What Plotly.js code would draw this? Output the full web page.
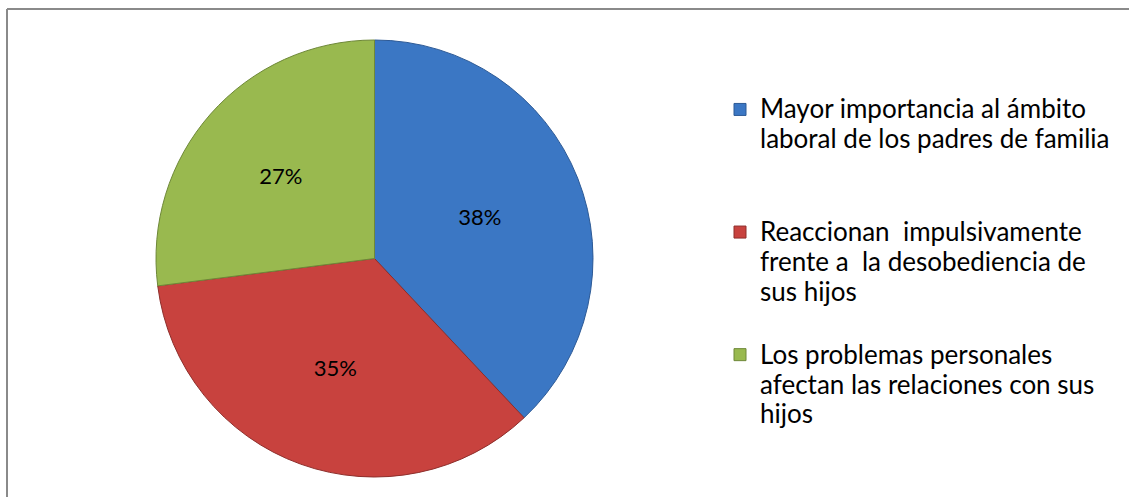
<!DOCTYPE html>
<html>
<head>
<meta charset="utf-8">
<script src="https://cdn.plot.ly/plotly-3.0.1.min.js"></script>
<style>html,body{margin:0;padding:0;background:#fff;}#chart{width:1129px;height:497px;}</style>
</head>
<body>
<div id="chart"></div>
<script>
const categories = [
  "Mayor importancia al ámbito<br>laboral de los padres de familia",
  "Reaccionan  impulsivamente<br>frente a  la desobediencia de<br>sus hijos",
  "Los problemas personales<br>afectan las relaciones con sus<br>hijos"
];
const values = [38, 35, 27];
const sliceColors = ["#3b77c4", "#c8423e", "#99b94f"];
const edgeColors = ["#2d5a96", "#8e2e2b", "#6e8838"];

const W = 1129, H = 497;
const px = x => x / W;
const py = y => 1 - y / H;

// every legend entry takes 4 line slots so the entries are evenly spaced
const legendLabels = categories.map(c => {
  const lines = c.split("<br>").map(s => '<span style="font-size:26px">' + s + '</span>');
  while (lines.length < 4) lines.push(" ");
  return lines.join("<br>");
});

const trace = {
  type: "pie",
  labels: legendLabels,
  values: values,
  sort: false,
  direction: "clockwise",
  rotation: 0,
  marker: {colors: sliceColors, line: {color: edgeColors, width: 1}},
  textinfo: "percent",
  texttemplate: "%{percent:.0%}",
  textposition: "inside",
  insidetextorientation: "horizontal",
  textfont: {family: "Lato, 'Open Sans', sans-serif", size: 22, color: "#000"},
  hoverinfo: "percent",
  domain: {x: [px(156), px(593)], y: [py(477), py(40)]}
};

const layout = {
  width: W, height: H,
  margin: {l: 0, r: 0, t: 0, b: 0},
  paper_bgcolor: "#ffffff",
  showlegend: true,
  legend: {
    x: px(720), y: py(88), xanchor: "left", yanchor: "top",
    font: {family: "Lato, 'Open Sans', sans-serif", size: 23, color: "#000"},
    valign: "top",
    bgcolor: "rgba(0,0,0,0)"
  },
  shapes: [
    {type: "line", xref: "paper", yref: "paper", x0: px(7), x1: px(1129), y0: py(9), y1: py(9), line: {color: "#8a8a8a", width: 2}},
    {type: "line", xref: "paper", yref: "paper", x0: px(7), x1: px(7), y0: py(9), y1: py(497), line: {color: "#8a8a8a", width: 2}}
  ]
};

Plotly.newPlot("chart", [trace], layout, {displayModeBar: false, staticPlot: true});
</script>
</body>
</html>
